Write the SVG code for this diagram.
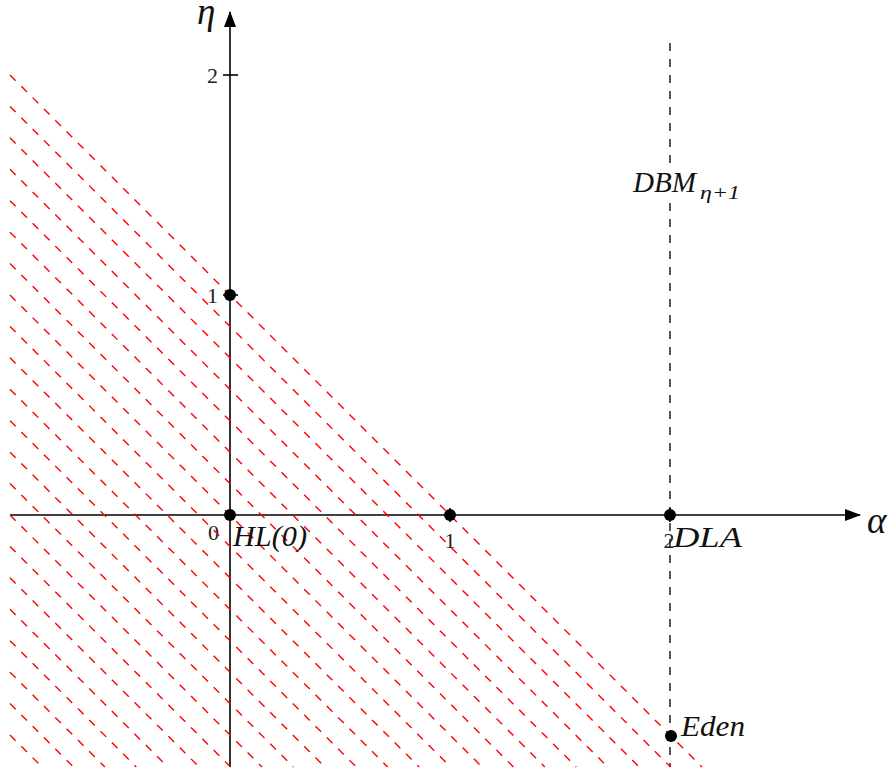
<svg xmlns="http://www.w3.org/2000/svg" width="896" height="774" viewBox="0 0 896 774">
<defs>
<style>
.axis{stroke:#000;stroke-width:1.6;fill:none}
.hatch{stroke:#ff0000;stroke-width:1.4;stroke-dasharray:8 8;fill:none}
.vdash{stroke:#000;stroke-width:1.3;stroke-dasharray:8 8;fill:none}
.dot{fill:#000}
.tick{font-family:"Liberation Serif",serif;font-size:22px;fill:#222}
.lbl{font-family:"Liberation Serif",serif;font-style:italic;font-size:29px;fill:#111}
.big{font-family:"Liberation Serif",serif;font-style:italic;font-size:37px;fill:#111}
.sub{font-family:"Liberation Serif",serif;font-style:italic;font-size:19px;fill:#111}
</style>
<marker id="arrh" viewBox="0 0 16 12" refX="15" refY="6" markerWidth="16" markerHeight="12" markerUnits="userSpaceOnUse" orient="auto">
<path d="M0,0 L16,6 L0,12 Z" fill="#000"/>
</marker>
</defs>
<rect width="896" height="774" fill="#fff"/>
<g id="axes">
<line class="axis" x1="10" y1="515" x2="860" y2="515" marker-end="url(#arrh)"/>
<line class="axis" x1="230" y1="767" x2="230" y2="12" marker-end="url(#arrh)"/>
<line class="axis" x1="223" y1="75" x2="238" y2="75"/>
<line class="axis" x1="223" y1="295" x2="238" y2="295"/>
<line class="axis" x1="450" y1="508" x2="450" y2="522"/>
<line class="axis" x1="670" y1="508" x2="670" y2="522"/>
</g>
<g id="labels">
<text class="tick" x="218" y="83" text-anchor="end">2</text>
<text class="tick" x="218" y="303" text-anchor="end">1</text>
<text class="tick" x="219" y="540" text-anchor="end">0</text>
<text class="tick" x="450" y="548" text-anchor="middle">1</text>
<text class="tick" x="669" y="548" text-anchor="middle">2</text>
<text class="big" x="867" y="533">α</text>
<text class="big" x="197" y="24">η</text>
</g>
<g id="connectors">
<line class="vdash" x1="670" y1="43" x2="670" y2="767"/>
<g id="hatching">
<path class="hatch" d="M10 75 L702 767"/>
<path class="hatch" d="M10 106.43 L670.57 767"/>
<path class="hatch" d="M10 137.86 L639.14 767"/>
<path class="hatch" d="M10 169.29 L607.71 767"/>
<path class="hatch" d="M10 200.71 L576.29 767"/>
<path class="hatch" d="M10 232.14 L544.86 767"/>
<path class="hatch" d="M10 263.57 L513.43 767"/>
<path class="hatch" d="M10 295 L482 767"/>
<path class="hatch" d="M10 326.43 L450.57 767"/>
<path class="hatch" d="M10 357.86 L419.14 767"/>
<path class="hatch" d="M10 389.29 L387.71 767"/>
<path class="hatch" d="M10 420.71 L356.29 767"/>
<path class="hatch" d="M10 452.14 L324.86 767"/>
<path class="hatch" d="M10 483.57 L293.43 767"/>
<path class="hatch" d="M10 515 L262 767"/>
<path class="hatch" d="M10 546.43 L230.57 767"/>
<path class="hatch" d="M10 577.86 L199.14 767"/>
<path class="hatch" d="M10 609.29 L167.71 767"/>
<path class="hatch" d="M10 640.71 L136.29 767"/>
<path class="hatch" d="M10 672.14 L104.86 767"/>
<path class="hatch" d="M10 703.57 L73.43 767"/>
<path class="hatch" d="M10 735 L42 767"/>
</g>
</g>
<g id="node-eta1">
<circle class="dot" cx="230" cy="295" r="6"/>
</g>
<g id="node-HL0">
<circle class="dot" cx="230" cy="515" r="6"/>
<text class="lbl" x="233" y="546" textLength="74" lengthAdjust="spacingAndGlyphs">HL(0)</text>
</g>
<g id="node-one">
<circle class="dot" cx="450" cy="515" r="6"/>
</g>
<g id="node-DLA">
<circle class="dot" cx="670" cy="515" r="6"/>
<text class="lbl" x="673" y="547" textLength="69" lengthAdjust="spacingAndGlyphs">DLA</text>
</g>
<g id="node-Eden">
<circle class="dot" cx="671" cy="736" r="6"/>
<text class="lbl" x="681" y="736" textLength="64" lengthAdjust="spacingAndGlyphs">Eden</text>
</g>
<g id="node-DBM">
<rect x="630" y="164" width="114" height="38" fill="#fff"/>
<text class="lbl" x="633" y="192" textLength="63" lengthAdjust="spacingAndGlyphs">DBM</text>
<text class="sub" x="700" y="199" textLength="40" lengthAdjust="spacingAndGlyphs">η+1</text>
</g>
</svg>
